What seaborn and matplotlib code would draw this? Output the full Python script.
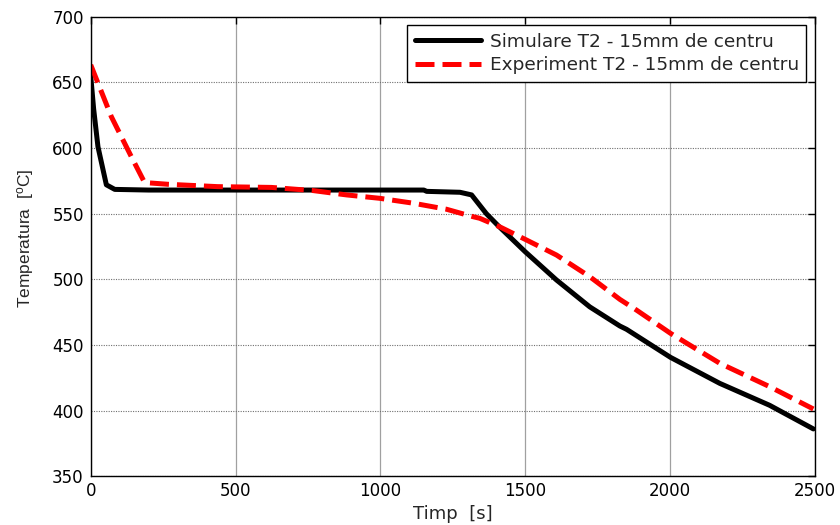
import matplotlib
matplotlib.use("Agg")
import matplotlib.pyplot as plt
import seaborn as sns
import pandas as pd

# Simulated temperature at T2 (15 mm from centre)
sim_t = [0, 10, 25, 54, 83, 200, 400, 600, 800, 1000, 1150, 1160, 1275, 1315,
         1366, 1406, 1500, 1608, 1723, 1827, 1850, 2002, 2172, 2344, 2495]
sim_T = [655, 630, 601, 572, 568.5, 568, 568, 568, 568, 568, 568, 567, 566.3, 564.3,
         550, 541, 521, 499.5, 479, 464.4, 461.9, 440.5, 420.7, 404, 386]

# Measured temperature at T2
exp_t = [0, 71, 140, 186, 266, 438, 624, 768, 883, 998, 1113, 1228, 1320, 1343,
         1412, 1504, 1608, 1723, 1827, 1884, 2002, 2172, 2344, 2495]
exp_T = [663.4, 624, 593.5, 573.7, 572.4, 570.6, 570, 567.6, 564.3, 561.7, 558,
         553.4, 547.7, 546.5, 540, 530, 518.5, 502, 484.7, 476.6, 458.8, 436, 418.2, 401.2]

labels = ["Simulare T2 - 15mm de centru", "Experiment T2 - 15mm de centru"]
x_ticks = [0, 500, 1000, 1500, 2000, 2500]
y_ticks = [350, 400, 450, 500, 550, 600, 650, 700]

sns.set_style("white")
plt.rcParams["font.family"] = ["DejaVu Sans"]
plt.rcParams["mathtext.fontset"] = "custom"
plt.rcParams["mathtext.rm"] = "Liberation Sans"
plt.rcParams["mathtext.it"] = "Liberation Sans"

sim = pd.DataFrame({"t": sim_t, "T": sim_T})
exp = pd.DataFrame({"t": exp_t, "T": exp_T})

fig = plt.figure(figsize=(8.4, 5.25), dpi=100)
ax = fig.add_axes([0.108, 0.093, 0.862, 0.875])

sns.lineplot(data=sim, x="t", y="T", ax=ax, color="black", lw=3.6,
             label=labels[0], sort=False)
sns.lineplot(data=exp, x="t", y="T", ax=ax, color="#ff0000", lw=3.6,
             label=labels[1], sort=False)
ax.lines[1].set_dashes([3.8, 1.6])

ax.set_xlim(0, 2500)
ax.set_ylim(350, 700)
ax.set_xticks(x_ticks)
ax.set_yticks(y_ticks)
ax.tick_params(direction="in", length=5, width=1, labelsize=12,
               top=True, right=True, colors="black")
ax.tick_params(axis="y", pad=5)
ax.tick_params(axis="x", pad=4)

ax.grid(axis="x", color="#a0a0a0", ls="-", lw=0.9)
ax.grid(axis="y", color="#707070", ls=(0, (1, 1.2)), lw=0.8)
ax.set_axisbelow(True)
for s in ax.spines.values():
    s.set_color("black")
    s.set_linewidth(1.0)
    s.set_visible(True)

ax.set_xlabel("Timp  [s]", fontsize=13, labelpad=3.5)
ax.set_ylabel("Temperatura  [$^{\\mathrm{o}}$C]", fontsize=12.5,
              family="Liberation Sans")
ax.yaxis.set_label_coords(-0.076, 0.518)

leg = ax.legend(loc="upper right", fontsize=13.3, frameon=True, fancybox=False,
                edgecolor="black", borderaxespad=0.45, handlelength=3.6,
                handletextpad=0.45, borderpad=0.42, labelspacing=0.3)
leg.get_frame().set_linewidth(1.0)
leg.get_frame().set_alpha(1)

fig.savefig("out.png", dpi=100, facecolor="white")
